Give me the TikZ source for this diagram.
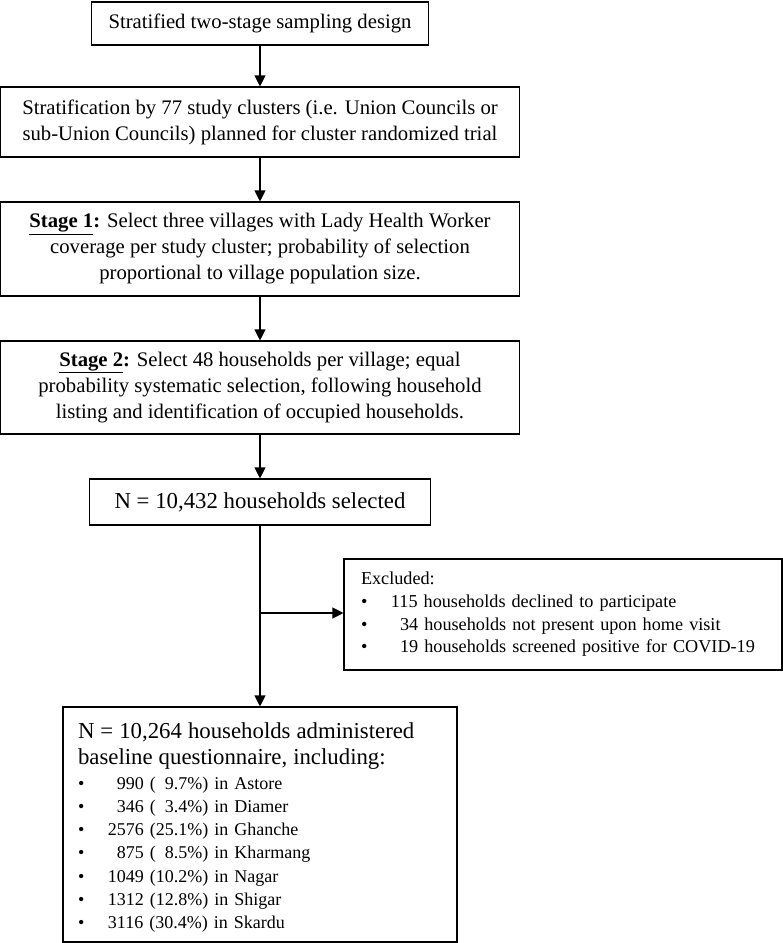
\documentclass[tikz,border=0pt]{standalone}
\usepackage{fontspec}
\setmainfont{Liberation Serif}
\usetikzlibrary{arrows.meta}
\newcommand{\bul}[1]{\makebox[30pt][l]{\textbullet}#1}
\newcommand{\fd}{\hphantom{0}}
\newcommand{\stg}[1]{\underline{\textbf{#1}}\textbf{:}}
\begin{document}
\begin{tikzpicture}[x=1pt,y=-1pt,
  box/.style={draw, line width=1.1pt, inner sep=0pt, align=center,
    font=\fontsize{20.7}{26}\selectfont},
  bigtxt/.style={font=\fontsize{22.8}{26.5}\selectfont},
  arr/.style={-{Triangle[width=11pt,length=11pt]}, line width=1.1pt}]
\useasboundingbox (0,0) rectangle (783,943);
\node[box, minimum width=337pt, minimum height=43pt] (b1) at (260,23.5)
  {Stratified two-stage sampling design};
\node[box, minimum width=519pt, minimum height=70pt] (b2) at (260,122)
  {Stratification by 77 study clusters (i.e. Union Councils or\\
   sub-Union Councils) planned for cluster randomized trial};
\node[box, minimum width=519pt, minimum height=94pt] (b3) at (260,249)
  {\stg{Stage 1} Select three villages with Lady Health Worker\\
   coverage per study cluster; probability of selection\\
   proportional to village population size.};
\node[box, minimum width=519pt, minimum height=93pt] (b4) at (260,387.5)
  {\stg{Stage 2} Select 48 households per village; equal\\
   probability systematic selection, following household\\
   listing and identification of occupied households.};
\node[box, bigtxt, minimum width=341pt, minimum height=46pt] (b5) at (260,502)
  {N = 10,432 households selected};
\node[box, align=left, text width=404pt, inner xsep=17pt,
  minimum width=438pt, minimum height=111pt,
  font=\fontsize{18.2}{22.7}\selectfont] (exc) at (563,614.5)
  {Excluded:\\
   \bul{115 households declined to participate}\\
   \bul{\fd 34 households not present upon home visit}\\
   \bul{\fd 19 households screened positive for COVID-19}\par};
\node[box, align=left, text width=364pt, inner xsep=15pt,
  minimum width=394pt, minimum height=235pt,
  font=\fontsize{18}{23.2}\selectfont] (b6) at (260,824.5)
  {{\fontsize{22.8}{26}\selectfont\rule{0pt}{22pt}N = 10,264 households administered\\
   baseline questionnaire, including:\par}
   \vspace{1.5pt}
   \bul{\fd 990 (\fd 9.7\%) in Astore}\\
   \bul{\fd 346 (\fd 3.4\%) in Diamer}\\
   \bul{2576 (25.1\%) in Ghanche}\\
   \bul{\fd 875 (\fd 8.5\%) in Kharmang}\\
   \bul{1049 (10.2\%) in Nagar}\\
   \bul{1312 (12.8\%) in Shigar}\\
   \bul{3116 (30.4\%) in Skardu}\par};
\coordinate (br) at (260,613);
\draw[arr] (b1) -- (b2);
\draw[arr] (b2) -- (b3);
\draw[arr] (b3) -- (b4);
\draw[arr] (b4) -- (b5);
\draw[arr] (b5) -- (b6);
\draw[arr] (br) -- (br -| exc.west);
\end{tikzpicture}
\end{document}
